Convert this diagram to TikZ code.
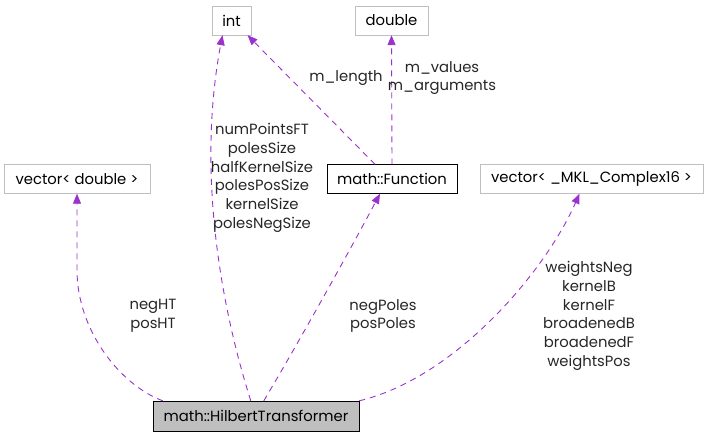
\documentclass[tikz,border=0pt]{standalone}
\usepackage{fontspec}
\setmainfont{Poppins}
\usepackage{tikz}
\usetikzlibrary{arrows.meta}

\definecolor{edgecol}{HTML}{9A32CD}
\definecolor{greybox}{HTML}{BFBFBF}

\begin{document}
\begin{tikzpicture}[x=1pt,y=-1pt,
	txt/.style={font=\fontsize{14.8}{18.7}\selectfont},
	cls/.style={txt,draw=greybox,inner sep=0pt,minimum height=29pt,minimum width=#1},
	mainfn/.style={txt,draw=black,inner sep=0pt,minimum height=29pt,minimum width=#1},
	focus/.style={txt,draw=black,fill=greybox,inner sep=0pt,minimum height=30pt,minimum width=#1},
	lbl/.style={txt,align=center,inner sep=0pt,text=black!85},
	use/.style={edgecol,dashed,dash pattern=on 6pt off 5pt,line width=0.9pt,-{Triangle[length=10pt,width=8pt]}}]
	\useasboundingbox (0,0) rectangle (708,437);
	% classes
	\node[cls=39pt] (int) at (231.5,20.5) {int};
	\node[cls=73pt] (dbl) at (391.5,20.5) {double};
	\node[cls=146pt] (vecd) at (77,179) {vector< double >};
	\node[mainfn=130pt] (fn) at (392,179) {math::Function};
	\node[cls=223pt] (vecc) at (591.5,179) {vector< \_MKL\_Complex16 >};
	\node[focus=206pt] (ht) at (256,416) {math::HilbertTransformer};
	% edges
	\draw[use] ([xshift=10pt]ht.north west) .. controls (120,385) and (77,330) .. (77,270) -- (vecd.south);
	\draw[use] ([xshift=98pt]ht.north west) .. controls (225,320) and (195,180) .. ([xshift=-9pt]int.south);
	\draw[use] ([xshift=-17pt]fn.north) -- ([xshift=16pt]int.south);
	\draw[use] (fn.north) -- (dbl.south);
	\draw[use] ([xshift=111pt]ht.north west) .. controls (300,340) and (350,250) .. ([xshift=-12pt]fn.south);
	\draw[use] (ht.north east) .. controls (455,378) and (545,272) .. ([xshift=-12pt]vecc.south);
	% labels
	\node[lbl] (lHT) at (153,316) {negHT\\posHT};
	\node[lbl] (lSize) at (262,178) {numPointsFT\\polesSize\\halfKernelSize\\polesPosSize\\kernelSize\\polesNegSize};
	\node[lbl] (lLen) at (346,78) {m\_length};
	\node[lbl] (lVal) at (442,78) {m\_values\\m\_arguments};
	\node[lbl] (lPoles) at (383,316) {negPoles\\posPoles};
	\node[lbl] (lKern) at (589,316) {weightsNeg\\kernelB\\kernelF\\broadenedB\\broadenedF\\weightsPos};
\end{tikzpicture}
\end{document}
